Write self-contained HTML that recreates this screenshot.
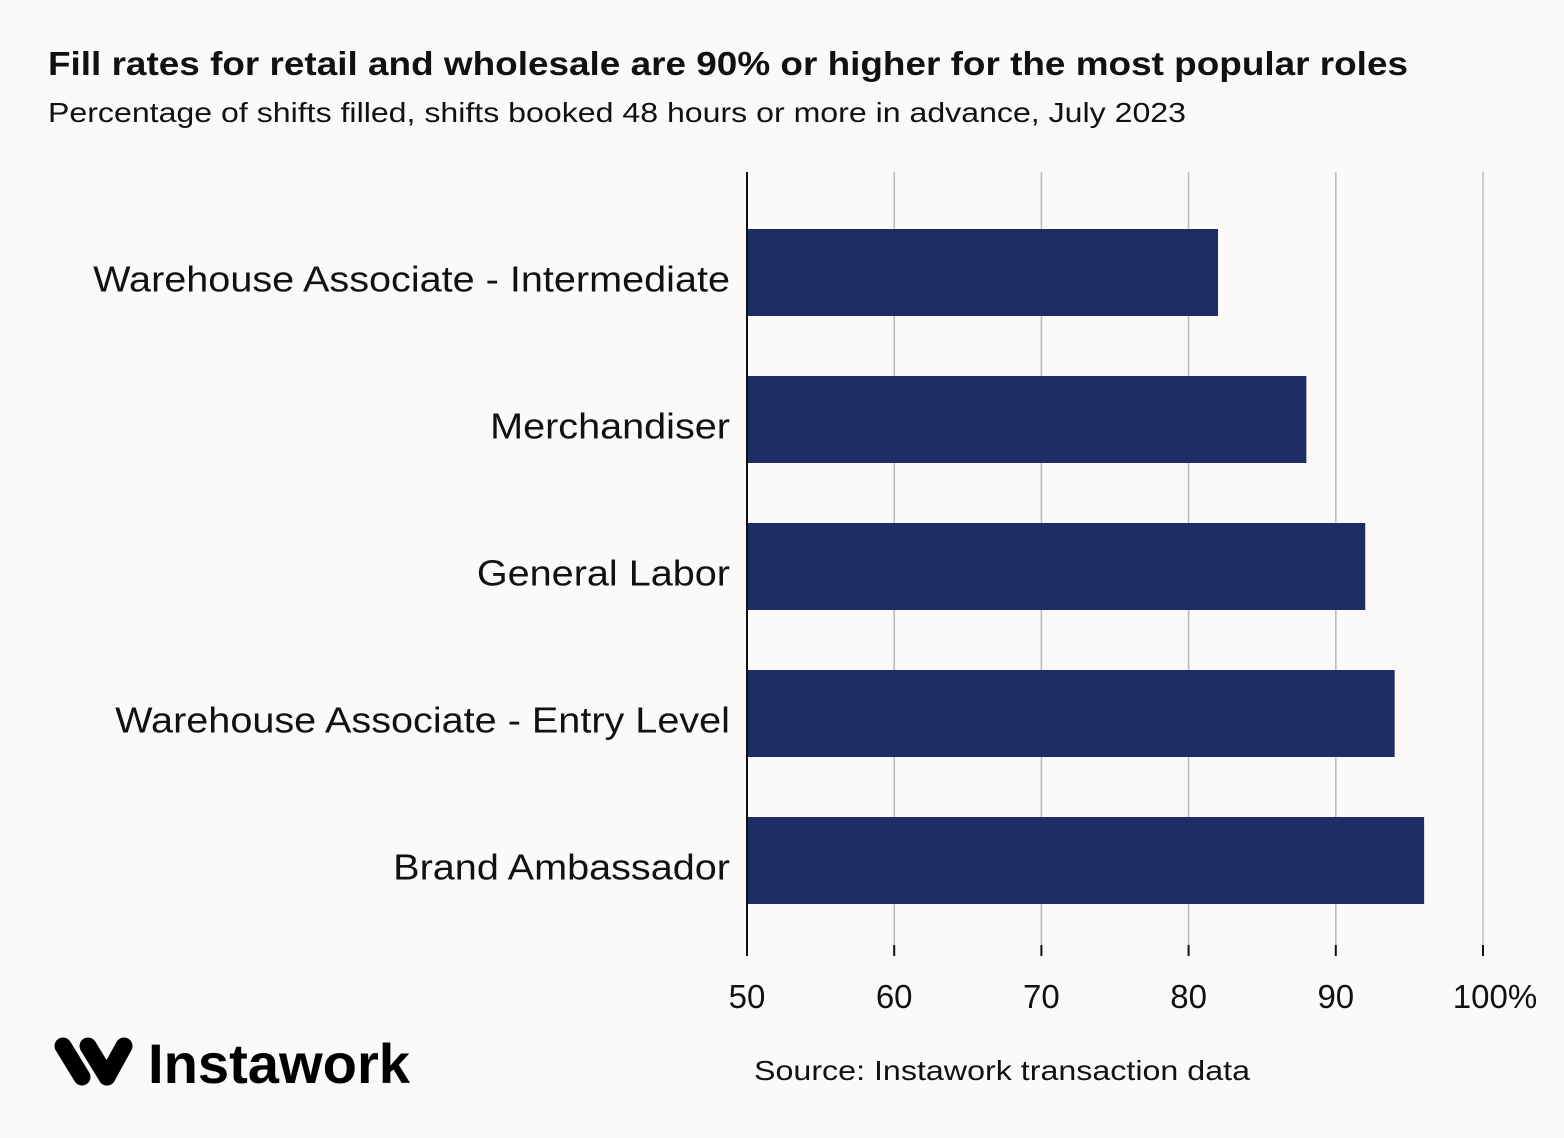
<!DOCTYPE html>
<html><head><meta charset="utf-8"><style>
html,body{margin:0;padding:0;background:#fbfaf8;}
svg{display:block;font-family:"Liberation Sans",sans-serif;}
</style></head><body>
<svg id="c" width="1564" height="1138" viewBox="0 0 1564 1138">
<rect width="1564" height="1138" fill="#fbfaf8"/>
<text x="48" y="75" font-size="33" font-weight="bold" fill="#111" textLength="1360" lengthAdjust="spacingAndGlyphs">Fill rates for retail and wholesale are 90% or higher for the most popular roles</text>
<text x="48" y="122" font-size="28" fill="#111" textLength="1138" lengthAdjust="spacingAndGlyphs">Percentage of shifts filled, shifts booked 48 hours or more in advance, July 2023</text>
<g id="grid"></g>
<g id="bars"></g>
<g id="labels"></g>
<g id="ticks"></g>
<line x1="747" y1="172" x2="747" y2="956" stroke="#111" stroke-width="2"/>
<g>
<g stroke="#000" stroke-width="17" stroke-linecap="round" fill="none">
<line x1="63" y1="1046" x2="82" y2="1077"/>
<line x1="88" y1="1046" x2="107" y2="1077"/>
<line x1="107" y1="1077" x2="124" y2="1046"/>
</g>
<text x="148" y="1083" font-size="56" font-weight="bold" fill="#000" textLength="262" lengthAdjust="spacingAndGlyphs">Instawork</text>
</g>
<text x="754" y="1080" font-size="28" fill="#111" textLength="496" lengthAdjust="spacingAndGlyphs">Source: Instawork transaction data</text>
</svg>
<script>
const categories=["Warehouse Associate - Intermediate","Merchandiser","General Labor","Warehouse Associate - Entry Level","Brand Ambassador"];
const values=[82,88,92,94,96];
const tickValues=[50,60,70,80,90,100];
const tickLabels=["50","60","70","80","90","100%"];
const NS="http://www.w3.org/2000/svg";
const x0=747,x1=1483,vmin=50,vmax=100;
const xs=v=>x0+(v-vmin)/(vmax-vmin)*(x1-x0);
const bandTop=229,step=147,bh=87;
const ys=i=>bandTop+i*step;
function mk(t,a){const e=document.createElementNS(NS,t);for(const k in a)e.setAttribute(k,a[k]);return e;}
const grid=document.getElementById('grid'),ticks=document.getElementById('ticks');
tickValues.forEach((v,i)=>{
 if(i>0){const l=mk('line',{x1:xs(v),x2:xs(v),y1:172,y2:945,stroke:'#bbb','stroke-width':1.5});
 
 
 grid.appendChild(l);
 const tk=mk('line',{x1:xs(v),x2:xs(v),y1:945,y2:956,stroke:'#111','stroke-width':2});
 
 
 ticks.appendChild(tk);}
 const t=mk('text',{x:xs(v)+(i==tickValues.length-1?12:0),y:1008,'font-size':33,'text-anchor':'middle',fill:'#111'});
 t.textContent=tickLabels[i];
 
 
 ticks.appendChild(t);
});
const bars=document.getElementById('bars'),labels=document.getElementById('labels');
categories.forEach((c,i)=>{
 const r=mk('rect',{x:x0,y:ys(i),width:xs(values[i])-x0,height:bh,fill:'#1f2d66'});
 
 
 bars.appendChild(r);
 const t=mk('text',{x:730,y:ys(i)+bh/2+19,'font-size':36,'text-anchor':'end',fill:'#111'});
 t.textContent=c;
 
 
 labels.appendChild(t);
});
const labelScale=1.10;
labels.querySelectorAll('text').forEach(t=>{
 const w=t.getComputedTextLength();
 t.setAttribute('textLength',w*labelScale);
 t.setAttribute('lengthAdjust','spacingAndGlyphs');
});
</script>
</body></html>
